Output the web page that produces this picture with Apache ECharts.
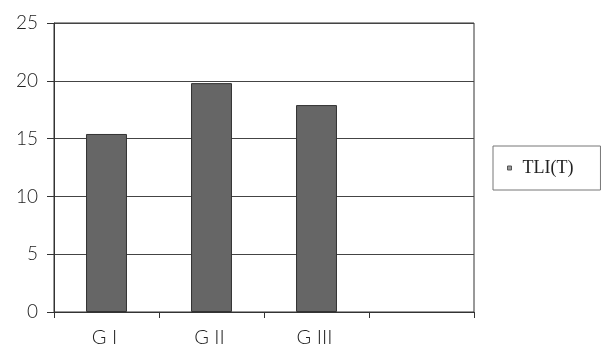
<!DOCTYPE html>
<html>
<head>
<meta charset="utf-8">
<script src="https://cdn.jsdelivr.net/npm/echarts@6/dist/echarts.min.js"></script>
<style>
  html, body { margin: 0; padding: 0; background: #fff; }
  #chart { width: 604px; height: 349px; }
</style>
</head>
<body>
<div id="chart"></div>
<script>
// Group labels (last slot is an empty category)
const categories = ['G I', 'G II', 'G III', ''];
// TLI(T) values per group
const seriesName = 'TLI(T)';
const tliValues = [15.4, 19.8, 17.9, null];
// Value axis range
const yMin = 0;
const yMax = 25;
const yStep = 5;

const axisFont = 'Lato';
const chart = echarts.init(document.getElementById('chart'), null, { renderer: 'canvas' });

chart.setOption({
  animation: false,
  backgroundColor: '#ffffff',
  grid: {
    left: 54, right: 130, top: 23, bottom: 37,
    show: true, borderColor: '#333', borderWidth: 1, backgroundColor: 'transparent'
  },
  legend: {
    data: [seriesName],
    left: 493, top: 146,
    orient: 'vertical',
    padding: [13, 27, 13, 14],
    borderColor: '#777', borderWidth: 1,
    itemWidth: 4, itemHeight: 4,
    icon: 'rect',
    itemStyle: { color: '#999', borderColor: '#555', borderWidth: 1 },
    textStyle: { fontFamily: 'Liberation Serif', fontSize: 18, color: '#222', padding: [0, 0, 0, 6] }
  },
  xAxis: {
    type: 'category',
    data: categories,
    boundaryGap: true,
    axisLine: { show: true, lineStyle: { color: '#333', width: 1 } },
    axisTick: { show: true, interval: 0, length: 6, lineStyle: { color: '#333' } },
    axisLabel: { interval: 0, margin: 16, fontFamily: axisFont, fontWeight: 300, fontSize: 20, color: '#222', padding: [0, 4, 0, 0] },
    splitLine: { show: false }
  },
  yAxis: {
    type: 'value',
    min: yMin, max: yMax, interval: yStep,
    axisLine: { show: true, lineStyle: { color: '#333', width: 1 } },
    axisTick: { show: true, length: 7, lineStyle: { color: '#333' } },
    axisLabel: { margin: 16, fontFamily: axisFont, fontWeight: 300, fontSize: 19, color: '#222', padding: [0, 0, 7, 0] },
    splitLine: { show: true, lineStyle: { color: '#444', width: 1 } }
  },
  series: [{
    name: seriesName,
    type: 'bar',
    data: tliValues,
    barWidth: '39%',
    itemStyle: { color: '#666666', borderColor: '#333', borderWidth: 1 }
  }]
});
</script>
</body>
</html>
